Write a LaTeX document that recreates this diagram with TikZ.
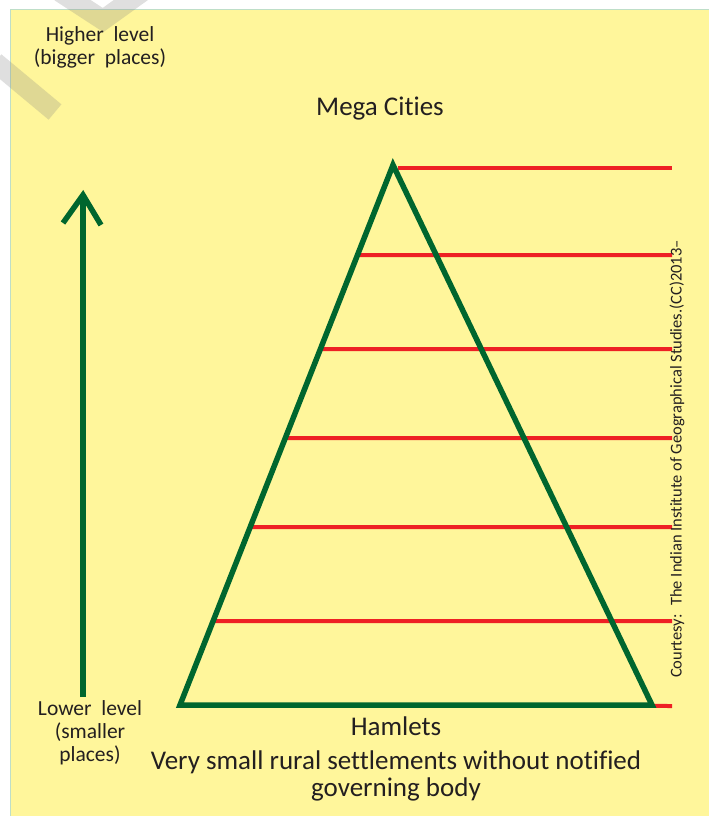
\documentclass[tikz,border=0pt]{standalone}
\usepackage{fontspec}
\setmainfont{Carlito}[Ligatures=NoCommon]
\usetikzlibrary{calc, positioning}
\definecolor{PaperYellow}{RGB}{255, 246, 155}
\definecolor{PyramidGreen}{RGB}{0, 102, 46}
\definecolor{LevelRed}{RGB}{238, 32, 36}
\definecolor{EdgeBlue}{RGB}{190, 222, 200}
\definecolor{TextGrey}{RGB}{35, 31, 32}

\tikzset{
  label text/.style={text=TextGrey, align=center, inner sep=0pt, font=\fontsize{27}{27}\selectfont},
  small text/.style={text=TextGrey, align=center, inner sep=0pt, font=\fontsize{21.5}{23}\selectfont},
  green line/.style={PyramidGreen, line width=5.5pt, line join=miter},
  red line/.style={LevelRed, line width=4pt},
}

\begin{document}
\begin{tikzpicture}[x=1pt, y=-1pt]
    \useasboundingbox (0,0) rectangle (709,816);
    \fill[PaperYellow] (10,10) rectangle (709,816);
    \draw[EdgeBlue, line width=1pt] (10,816) -- (10,10) -- (709,10);

    % watermark stripes
    \draw[gray, opacity=0.25, line width=20pt] (-5,62) -- (55,112);
    \draw[gray, opacity=0.25, line width=20pt] (60,-8) -- (103,20) -- (142,-8);

    % pyramid corners
    \coordinate (apex) at (393,165);
    \coordinate (bl) at (180,705);
    \coordinate (br) at (652,705);

    % levels
    \draw[red line] (398,168) -- (672,168);
    \foreach \y in {255,349,438,527,621} {
      \draw[red line] ($(bl)!{(705-\y)/540}!(apex)$) -- (672,\y);
    }
    \draw[red line] (bl) -- (672,706);

    \draw[green line] (bl) -- (apex) -- (br) -- cycle;

    % scale arrow
    \coordinate (low) at (83,697);
    \coordinate (high) at (83,195);
    \draw[green line] (low) -- (high);
    \draw[green line, line cap=butt] (63,223) -- (high) -- (101,225);

    \node[small text] (higher) at (100,47) {Higher~ level\\(bigger~ places)};
    \node[small text] (lower) at (90,733) {Lower~ level\\(smaller\\places)};
    \node[label text] (mega) at (380,109) {Mega Cities};
    \node[label text] (hamlets) at (396,726) {Hamlets};
    \node[label text] (rural) at (396,776) {Very small rural settlements without notified\\governing body};
    \node[text=TextGrey, inner sep=0pt, rotate=90, font=\fontsize{16.5}{18}\selectfont] (courtesy) at (677,459) {Courtesy:~ The Indian Institute of Geographical Studies.(CC)2013--};
\end{tikzpicture}
\end{document}
